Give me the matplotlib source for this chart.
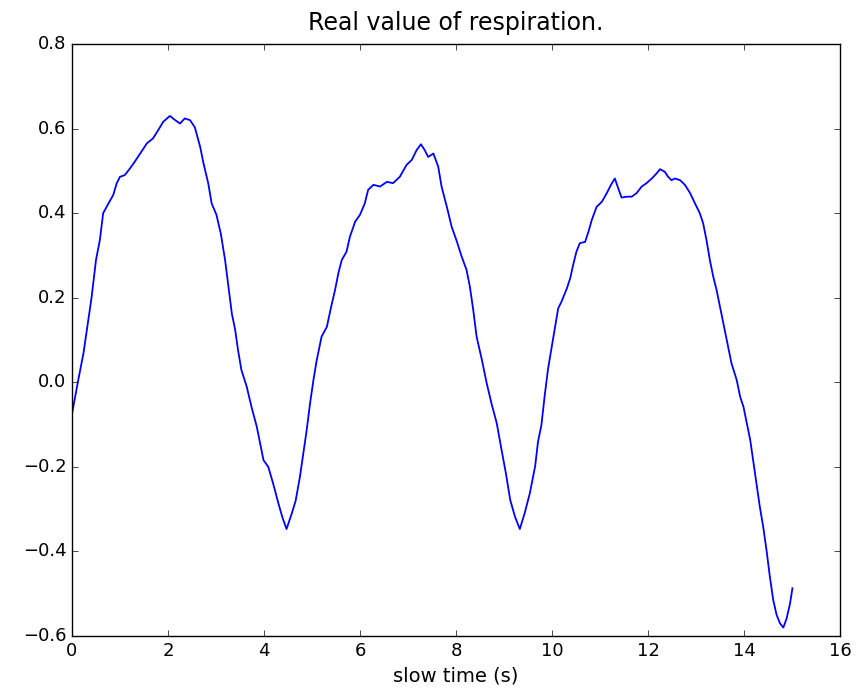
import matplotlib
matplotlib.use('Agg')
import matplotlib.pyplot as plt

# slow time (s)
time_s = [
    0.00, 0.13, 0.24, 0.34, 0.41, 0.50, 0.58, 0.65, 0.76, 0.86,
    0.93, 1.00, 1.10, 1.21, 1.31, 1.42, 1.56, 1.69, 1.80, 1.90,
    2.04, 2.15, 2.25, 2.35, 2.46, 2.56, 2.67, 2.74, 2.84, 2.91,
    3.01, 3.10, 3.19, 3.26, 3.33, 3.40, 3.46, 3.53, 3.64, 3.74,
    3.85, 3.92, 3.99, 4.09, 4.19, 4.30, 4.38, 4.47, 4.58, 4.66,
    4.75, 4.82, 4.89, 4.96, 5.03, 5.10, 5.20, 5.31, 5.40, 5.48,
    5.55, 5.62, 5.72, 5.79, 5.90, 6.00, 6.10, 6.17, 6.28, 6.42,
    6.56, 6.69, 6.83, 6.97, 7.08, 7.18, 7.27, 7.35, 7.42, 7.53,
    7.63, 7.70, 7.81, 7.91, 8.01, 8.12, 8.22, 8.29, 8.36, 8.43,
    8.54, 8.64, 8.74, 8.85, 8.95, 9.04, 9.13, 9.23, 9.33, 9.43,
    9.54, 9.65, 9.71, 9.78, 9.85, 9.92, 9.99, 10.06, 10.13, 10.20,
    10.31, 10.38, 10.44, 10.51, 10.58, 10.69, 10.76, 10.83, 10.93, 11.04,
    11.14, 11.23, 11.31, 11.38, 11.45, 11.56, 11.66, 11.76, 11.87, 11.97,
    12.08, 12.18, 12.25, 12.35, 12.42, 12.49, 12.56, 12.67, 12.77, 12.88,
    12.98, 13.08, 13.15, 13.22, 13.29, 13.36, 13.43, 13.50, 13.57, 13.67,
    13.74, 13.85, 13.92, 13.99, 14.06, 14.13, 14.19, 14.26, 14.33, 14.40,
    14.47, 14.54, 14.61, 14.68, 14.75, 14.82, 14.89, 14.96, 15.01,
]

respiration = [
    -0.075, 0.005, 0.069, 0.147, 0.202, 0.289, 0.336, 0.400, 0.423, 0.443,
    0.470, 0.486, 0.490, 0.506, 0.522, 0.541, 0.565, 0.577, 0.597, 0.616,
    0.630, 0.620, 0.612, 0.624, 0.620, 0.603, 0.557, 0.518, 0.470, 0.423,
    0.396, 0.352, 0.289, 0.226, 0.163, 0.124, 0.076, 0.029, -0.010, -0.058,
    -0.105, -0.144, -0.184, -0.200, -0.239, -0.286, -0.318, -0.347, -0.310, -0.280,
    -0.223, -0.168, -0.113, -0.050, 0.005, 0.053, 0.108, 0.131, 0.179, 0.218,
    0.258, 0.289, 0.309, 0.344, 0.380, 0.396, 0.423, 0.455, 0.467, 0.463,
    0.474, 0.471, 0.486, 0.514, 0.526, 0.549, 0.563, 0.549, 0.533, 0.541,
    0.510, 0.463, 0.415, 0.368, 0.336, 0.297, 0.266, 0.226, 0.171, 0.108,
    0.053, -0.002, -0.050, -0.097, -0.160, -0.215, -0.278, -0.318, -0.347, -0.310,
    -0.262, -0.198, -0.140, -0.101, -0.030, 0.033, 0.080, 0.128, 0.175, 0.191,
    0.222, 0.246, 0.277, 0.309, 0.329, 0.332, 0.356, 0.384, 0.415, 0.427,
    0.447, 0.467, 0.482, 0.459, 0.437, 0.439, 0.439, 0.447, 0.463, 0.471,
    0.482, 0.494, 0.504, 0.498, 0.486, 0.478, 0.482, 0.478, 0.467, 0.447,
    0.423, 0.400, 0.376, 0.336, 0.289, 0.250, 0.218, 0.179, 0.140, 0.084,
    0.045, 0.005, -0.034, -0.058, -0.097, -0.136, -0.184, -0.239, -0.294, -0.341,
    -0.397, -0.460, -0.515, -0.550, -0.570, -0.580, -0.558, -0.523, -0.487,
]

plt.style.use('classic')
fig = plt.figure(figsize=(8.63, 6.89), dpi=100, facecolor='white')
ax = fig.add_axes([0.0834, 0.0769, 0.8899, 0.8592])

ax.plot(time_s, respiration, color='b', linewidth=1.3)
ax.set_xlim(0, 16)
ax.set_ylim(-0.6, 0.8)
ax.set_xticks(range(0, 17, 2))
ax.set_yticks([-0.6, -0.4, -0.2, 0.0, 0.2, 0.4, 0.6, 0.8])
ax.tick_params(labelsize=13)
ax.set_xlabel('slow time (s)', fontsize=14)
ax.set_title('Real value of respiration.', fontsize=17, pad=10)

fig.savefig('out.png', dpi=100, facecolor='white')
